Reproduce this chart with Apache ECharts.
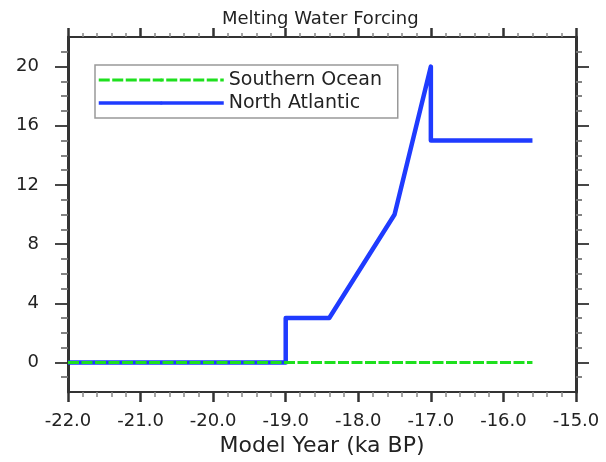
<!DOCTYPE html>
<html>
<head>
<meta charset="utf-8">
<script src="https://cdn.jsdelivr.net/npm/echarts@6/dist/echarts.min.js"></script>
<style>
  html, body { margin: 0; padding: 0; background: #fff; }
  #main { width: 606px; height: 462px; }
</style>
</head>
<body>
<div id="main"></div>
<script>
// data
const naYears = [-22, -19, -19, -18.4, -17.5, -17, -17, -15.6];
const naValues = [0, 0, 3, 3, 10, 20, 15, 15];
const soYears = [-22, -15.6];
const soValues = [0, 0];
const xTicks = [-22, -21, -20, -19, -18, -17, -16, -15];
const yTicks = [0, 4, 8, 12, 16, 20];
const yMinorTicks = [-1, 1, 2, 3, 5, 6, 7, 9, 10, 11, 13, 14, 15, 17, 18, 19, 21];

const font = 'DejaVu Sans';
const axisColor = '#333';

const pairs = (xs, ys) => xs.map((x, i) => [x, ys[i]]);

// x axes (bottom with labels, top plain)
const makeX = (position, showLabel, majorLen, minorLen) => ({
  type: 'value',
  position: position,
  min: xTicks[0],
  max: xTicks[xTicks.length - 1],
  interval: 1,
  axisLine: { show: true, onZero: false, lineStyle: { color: axisColor, width: 2 } },
  axisTick: { show: true, length: majorLen, lineStyle: { color: axisColor, width: 2.5 } },
  minorTick: { show: true, splitNumber: 5, length: minorLen, lineStyle: { color: '#888', width: 1.5 } },
  axisLabel: {
    show: showLabel, margin: 20, fontSize: 18, fontFamily: font, color: '#222',
    formatter: v => v.toFixed(1)
  },
  splitLine: { show: false },
  name: showLabel ? 'Model Year (ka BP)' : '',
  nameLocation: 'middle',
  nameGap: 43,
  nameTextStyle: { fontSize: 22, fontFamily: font, color: '#222' }
});

// y axes: one for the major ticks (+labels), one for the minor ticks
const makeY = (position, showLabel, ticks, len, showLine) => ({
  type: 'value',
  position: position,
  min: -2,
  max: 22,
  axisLine: { show: showLine, onZero: false, lineStyle: { color: axisColor, width: 3 } },
  axisTick: { show: true, length: len, customValues: ticks, lineStyle: { color: showLine ? axisColor : '#777', width: 1.8 } },
  axisLabel: { show: showLabel, customValues: ticks, margin: 29, fontSize: 18, fontFamily: font, color: '#222' },
  splitLine: { show: false }
});

const chart = echarts.init(document.getElementById('main'));
const option = {
  animation: false,
  backgroundColor: '#fff',
  title: {
    text: 'Melting Water Forcing',
    left: 222,
    top: 10,
    padding: 0,
    textStyle: { fontSize: 18, fontWeight: 'normal', fontFamily: font, color: '#222' }
  },
  grid: { left: 68, right: 30, top: 37, bottom: 68 },
  legend: {
    orient: 'vertical',
    left: 95,
    top: 65,
    itemWidth: 125,
    itemHeight: 4,
    itemGap: 3,
    padding: [5, 3, 5, 2],
    borderColor: '#999',
    borderWidth: 1.5,
    selectedMode: false,
    textStyle: { fontSize: 19, fontFamily: font, color: '#222', lineHeight: 20, width: 166 },
    data: [
      { name: 'Southern Ocean', lineStyle: { width: 3 } },
      { name: 'North Atlantic', lineStyle: { width: 3.5 } }
    ]
  },
  xAxis: [
    makeX('bottom', true, 10, 5),
    makeX('top', false, 9, 4)
  ],
  yAxis: [
    makeY('left', true, yTicks, 13, true),
    makeY('left', false, yMinorTicks, 7, false),
    makeY('right', false, yTicks, 13, true),
    makeY('right', false, yMinorTicks, 6, false)
  ],
  series: [
    {
      name: 'North Atlantic',
      type: 'line',
      symbol: 'none',
      xAxisIndex: 0,
      yAxisIndex: 0,
      data: pairs(naYears, naValues),
      lineStyle: { color: '#1f3bff', width: 4.5, join: 'round' },
      itemStyle: { color: '#1f3bff' },
      z: 2
    },
    {
      name: 'Southern Ocean',
      type: 'line',
      symbol: 'none',
      xAxisIndex: 0,
      yAxisIndex: 0,
      data: pairs(soYears, soValues),
      lineStyle: { color: '#1ee01e', width: 3, type: [11, 2.5] },
      itemStyle: { color: '#1ee01e' },
      z: 3
    }
  ]
};
chart.setOption(option);
</script>
</body>
</html>
